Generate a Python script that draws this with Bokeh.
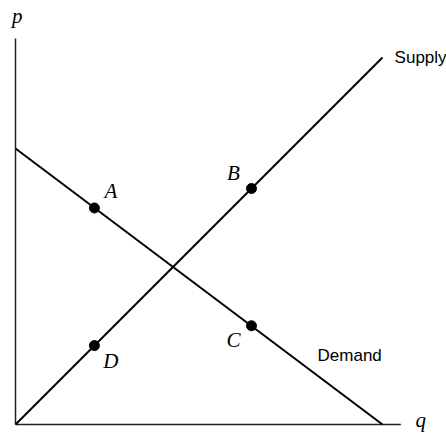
from bokeh.plotting import figure
from bokeh.models import Range1d
from bokeh.core.properties import value
from bokeh.embed import file_html
from bokeh.resources import INLINE

# Curves (q, p)
supply_q = [0.0, 10.0]
supply_p = [0.0, 10.0]
demand_q = [0.0, 10.0]
demand_p = [7.52, 0.0]

# Axes extents
axis_len_q = 10.5
axis_len_p = 10.52

# Marked points
pt_names = ["A", "B", "C", "D"]
pt_q = [2.15, 6.43, 6.43, 2.15]
pt_p = [5.9, 6.43, 2.69, 2.15]

# Point labels
lab_text = ["A", "B", "C", "D"]
lab_q = [2.6, 5.94, 5.94, 2.6]
lab_p = [6.35, 6.84, 2.29, 1.74]

# Axis labels
ax_text = ["p", "q"]
ax_q = [0.05, 11.04]
ax_p = [11.12, 0.13]

# Curve labels
curve_text = ["Supply", "Demand"]
curve_q = [10.33, 8.23]
curve_p = [10.0, 1.88]

scale = 36.7
W, H = 446, 433
ox, oy = 15, 424  # pixel position of origin inside the figure
p = figure(width=W, height=H, output_backend="svg", toolbar_location=None,
           x_range=Range1d(-ox / scale, (W - ox) / scale),
           y_range=Range1d(-(H - oy) / scale, oy / scale),
           min_border=0)
p.axis.visible = False
p.grid.visible = False
p.outline_line_color = None
p.background_fill_color = "white"
p.border_fill_color = "white"

# axes
p.segment(x0=[0, 0], y0=[0, 0], x1=[0, axis_len_q], y1=[axis_len_p, 0],
          line_color="#222222", line_width=1.5)

p.line(supply_q, supply_p, line_color="black", line_width=2)
p.line(demand_q, demand_p, line_color="black", line_width=2)

p.scatter(pt_q, pt_p, size=10, fill_color="black", line_color="black")

p.text(lab_q, lab_p, text=lab_text, text_font=value("Liberation Serif"),
       text_font_style="italic", text_font_size="21px", text_align="center",
       text_baseline="middle", text_color="black")
p.text(ax_q, ax_p, text=ax_text, text_font=value("Liberation Serif"),
       text_font_style="italic", text_font_size="21px", text_align="center",
       text_baseline="middle", text_color="black")
p.text(curve_q, curve_p, text=curve_text, text_font=value("Liberation Sans"),
       text_font_size="17px", text_align="left",
       text_baseline="middle", text_color="black")

open("out.html", "w").write(file_html(p, INLINE))
